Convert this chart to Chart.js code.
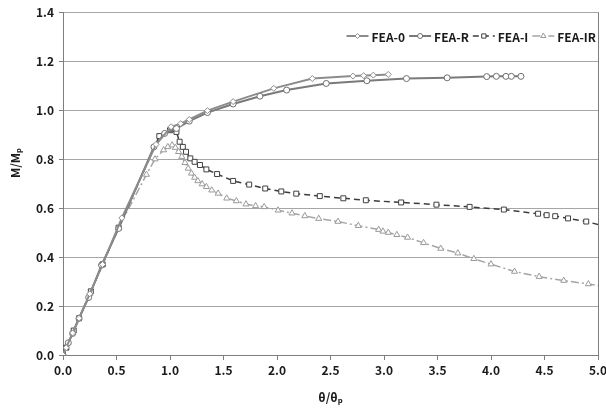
<!DOCTYPE html>
<html lang="en">
<head>
    <meta charset="UTF-8">
    <title>M/Mp vs θ/θp</title>
    <style>
        body {
            background-color: white;
            margin: 0;
        }
        .content {
            width: 606px;
            height: 420px;
        }
    </style>
</head>
<body>
    <div class="content">
        <canvas id="chart" width="606" height="420"></canvas>
    </div>

    <script src="https://cdn.jsdelivr.net/npm/chart.js"></script>
    <script>
        // values
        const fea0X = [0, 0.03, 0.09, 0.15, 0.25, 0.37, 0.55, 0.87, 1.01, 1.1, 1.18, 1.35, 1.59, 1.97, 2.33, 2.71, 2.81, 2.90, 3.04];
        const fea0Y = [0, 0.03, 0.09, 0.15, 0.25, 0.37, 0.56, 0.86, 0.932, 0.945, 0.962, 0.998, 1.035, 1.089, 1.129, 1.139, 1.141, 1.143, 1.146];

        const feaRX = [0, 0.05, 0.09, 0.15, 0.24, 0.36, 0.52, 0.85, 0.95, 1.06, 1.18, 1.35, 1.59, 1.84, 2.09, 2.46, 2.84, 3.21, 3.59, 3.96, 4.05, 4.14, 4.19, 4.28];
        const feaRY = [0, 0.05, 0.088, 0.15, 0.235, 0.367, 0.517, 0.85, 0.905, 0.925, 0.955, 0.99, 1.025, 1.057, 1.082, 1.109, 1.12, 1.129, 1.132, 1.137, 1.138, 1.138, 1.138, 1.138];

        const feaIX = [0, 0.03, 0.1, 0.15, 0.26, 0.37, 0.52, 0.9, 1.0, 1.03, 1.06, 1.09, 1.12, 1.15, 1.19, 1.23, 1.28, 1.34, 1.44, 1.59, 1.74, 1.89, 2.04, 2.18, 2.40, 2.62, 2.83, 3.16, 3.49, 3.80, 4.12, 4.44, 4.52, 4.60, 4.72, 4.89, 5.1];
        const feaIY = [0, 0.03, 0.1, 0.15, 0.26, 0.37, 0.52, 0.894, 0.918, 0.922, 0.911, 0.871, 0.85, 0.83, 0.803, 0.789, 0.776, 0.758, 0.739, 0.711, 0.696, 0.680, 0.668, 0.659, 0.649, 0.640, 0.632, 0.623, 0.614, 0.605, 0.594, 0.577, 0.571, 0.567, 0.558, 0.545, 0.522];

        const feaIRX = [0, 0.03, 0.09, 0.15, 0.25, 0.37, 0.52, 0.78, 0.86, 0.94, 0.98, 1.02, 1.05, 1.08, 1.11, 1.14, 1.17, 1.20, 1.23, 1.26, 1.30, 1.34, 1.39, 1.45, 1.53, 1.62, 1.71, 1.80, 1.88, 2.01, 2.14, 2.26, 2.39, 2.57, 2.76, 2.95, 2.99, 3.04, 3.12, 3.22, 3.37, 3.53, 3.69, 3.84, 4.0, 4.22, 4.45, 4.68, 4.91, 5.1];
        const feaIRY = [0, 0.03, 0.09, 0.15, 0.25, 0.37, 0.52, 0.737, 0.80, 0.837, 0.85, 0.857, 0.847, 0.83, 0.81, 0.785, 0.762, 0.742, 0.725, 0.711, 0.698, 0.687, 0.673, 0.660, 0.64, 0.629, 0.616, 0.609, 0.605, 0.591, 0.579, 0.568, 0.557, 0.545, 0.528, 0.512, 0.505, 0.50, 0.491, 0.48, 0.458, 0.435, 0.416, 0.393, 0.371, 0.341, 0.32, 0.304, 0.29, 0.276];

        const seriesNames = ['FEA-0', 'FEA-R', 'FEA-I', 'FEA-IR'];
        const yTitle = 'M/Mₚ';
        const xTitle = 'θ/θₚ';

        const FONT = '"Noto Sans CJK KR", "Noto Sans", sans-serif';

        function pts(xs, ys) {
            return xs.map((x, i) => ({ x: x, y: ys[i] }));
        }

        // legend inside the plot (top right), right border, and the y title
        const extras = {
            id: 'extras',
            afterDraw(chart) {
                const ctx = chart.ctx;
                const area = chart.chartArea;
                const sets = chart.data.datasets;
                ctx.save();
                ctx.font = 'bold 12px ' + FONT;
                ctx.textBaseline = 'middle';
                const sample = 22;
                let widths = sets.map(d => sample + 3 + ctx.measureText(d.label).width);
                let total = widths.reduce((a, b) => a + b, 0) + (sets.length - 1) * 4;
                let x = area.right - 2 - total;
                const y = 36;
                sets.forEach((d, i) => {
                    ctx.strokeStyle = d.borderColor;
                    ctx.lineWidth = d.borderWidth;
                    ctx.setLineDash(d.borderDash || []);
                    ctx.beginPath();
                    ctx.moveTo(x, y);
                    ctx.lineTo(x + sample, y);
                    ctx.stroke();
                    ctx.setLineDash([]);
                    ctx.fillStyle = 'white';
                    ctx.strokeStyle = d.pointBorderColor;
                    ctx.lineWidth = 1;
                    Chart.helpers.drawPoint(ctx, {
                        pointStyle: d.pointStyle,
                        radius: d.pointRadius - 0.5,
                        borderWidth: 1
                    }, x + sample / 2, y);
                    ctx.fillStyle = '#1a1a1a';
                    ctx.fillText(d.label, x + sample + 3, y + 1);
                    x += widths[i] + 4;
                });

                // right border of the plot
                ctx.strokeStyle = '#7f7f7f';
                ctx.lineWidth = 1;
                ctx.beginPath();
                ctx.moveTo(Math.round(area.right) + 0.5, area.top);
                ctx.lineTo(Math.round(area.right) + 0.5, area.bottom);
                ctx.stroke();

                // y axis title, sits a bit above the middle like the original
                ctx.translate(15, 163);
                ctx.rotate(-Math.PI / 2);
                ctx.textAlign = 'center';
                ctx.fillStyle = '#1a1a1a';
                ctx.fillText(yTitle, 0, 0);
                ctx.restore();
            }
        };

        const ctx = document.getElementById('chart').getContext('2d');
        const chart = new Chart(ctx, {
            type: 'scatter',
            data: {
                datasets: [{
                    label: seriesNames[0],
                    data: pts(fea0X, fea0Y),
                    showLine: true,
                    borderColor: '#8c8c8c',
                    borderWidth: 2,
                    pointStyle: 'rectRot',
                    pointRadius: 3,
                    pointBorderWidth: 1,
                    pointBackgroundColor: 'white',
                    pointBorderColor: '#8c8c8c'
                }, {
                    label: seriesNames[1],
                    data: pts(feaRX, feaRY),
                    showLine: true,
                    borderColor: '#7a7a7a',
                    borderWidth: 2,
                    pointStyle: 'circle',
                    pointRadius: 3,
                    pointBorderWidth: 1,
                    pointBackgroundColor: 'white',
                    pointBorderColor: '#6e6e6e'
                }, {
                    label: seriesNames[2],
                    data: pts(feaIX, feaIY),
                    showLine: true,
                    borderColor: '#3c3c3c',
                    borderWidth: 1.5,
                    borderDash: [6, 4],
                    pointStyle: 'rect',
                    pointRadius: 3.5,
                    pointBorderWidth: 1,
                    pointBackgroundColor: 'white',
                    pointBorderColor: '#404040'
                }, {
                    label: seriesNames[3],
                    data: pts(feaIRX, feaIRY),
                    showLine: true,
                    borderColor: '#a5a5a5',
                    borderWidth: 1.5,
                    borderDash: [8, 3, 2, 3],
                    pointStyle: 'triangle',
                    pointRadius: 3.5,
                    pointBorderWidth: 1,
                    pointBackgroundColor: 'white',
                    pointBorderColor: '#9a9a9a'
                }]
            },
            options: {
                responsive: false,
                animation: false,
                clip: 0,
                layout: { padding: { left: 0, right: 0, top: 12, bottom: 0 } },
                plugins: {
                    legend: { display: false },
                    tooltip: { enabled: false }
                },
                scales: {
                    x: {
                        type: 'linear',
                        min: 0,
                        max: 5,
                        afterFit: s => { s.height = 65; s.paddingRight = 8; },
                        ticks: {
                            stepSize: 0.5,
                            padding: 3,
                            color: '#1a1a1a',
                            font: { family: FONT, size: 12, weight: 'bold' },
                            callback: v => v.toFixed(1),
                            maxRotation: 0
                        },
                        grid: {
                            drawOnChartArea: false,
                            tickLength: 5,
                            color: '#7f7f7f'
                        },
                        border: { color: '#7f7f7f', width: 1 },
                        title: {
                            display: true,
                            text: xTitle,
                            color: '#1a1a1a',
                            font: { family: FONT, size: 12, weight: 'bold' },
                            padding: { top: 0, bottom: 15 }
                        }
                    },
                    y: {
                        min: 0,
                        max: 1.4,
                        afterFit: s => { s.width = 63; },
                        ticks: {
                            stepSize: 0.2,
                            padding: 5,
                            color: '#1a1a1a',
                            font: { family: FONT, size: 12, weight: 'bold' },
                            callback: v => v.toFixed(1)
                        },
                        grid: {
                            color: '#a6a6a6',
                            tickColor: '#7f7f7f',
                            tickLength: 4
                        },
                        border: { color: '#7f7f7f', width: 1 }
                    }
                }
            },
            plugins: [extras]
        });
    </script>
</body>
</html>
